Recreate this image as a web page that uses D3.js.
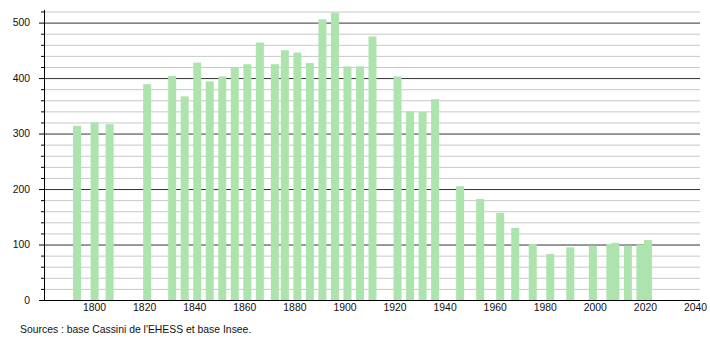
<!DOCTYPE html>
<html>
<head>
<meta charset="utf-8">
<script src="https://cdn.jsdelivr.net/npm/d3@7"></script>
<style>
  body { margin: 0; background: #fff; }
  svg { font-family: "Liberation Sans", Arial, sans-serif; }
</style>
</head>
<body>
<svg id="chart"></svg>
<script>
// années de recensement et population
const annees = [1793, 1800, 1806, 1821, 1831, 1836, 1841, 1846, 1851, 1856,
  1861, 1866, 1872, 1876, 1881, 1886, 1891, 1896, 1901, 1906,
  1911, 1921, 1926, 1931, 1936, 1946, 1954, 1962, 1968, 1975,
  1982, 1990, 1999, 2006, 2008, 2013, 2018, 2021];
const population = [314, 320, 317, 389, 404, 367, 428, 394, 403, 420,
  425, 464, 425, 450, 446, 427, 506, 518, 421, 421,
  475, 403, 340, 339, 362, 205, 182, 157, 130, 101,
  83, 95, 98, 101, 103, 98, 100, 108];
const xTicks = [1800, 1820, 1840, 1860, 1880, 1900, 1920, 1940, 1960, 1980, 2000, 2020, 2040];
const source = "Sources : base Cassini de l'EHESS et base Insee.";

const width = 710, height = 340;
const mLeft = 44, mRight = 700, mTop = 11.5, mBottom = 300;
const fs = 10.4;

const svg = d3.select("#chart").attr("width", width).attr("height", height);

const x = d3.scaleLinear().domain([1780, 2042]).range([mLeft, mRight]);
const y = d3.scaleLinear().domain([0, 520]).range([mBottom, mTop]);

const minorVals = d3.range(20, 521, 20).filter((v) => v % 100);

// grille fine (tous les 20)
const grilleFine = svg.append("g")
  .attr("transform", `translate(${mLeft},0)`)
  .call(d3.axisLeft(y).tickValues(minorVals).tickSize(-(mRight - mLeft)).tickFormat(""));
grilleFine.select(".domain").remove();
grilleFine.selectAll("line").attr("stroke", "#c8c8c8");

// petites graduations
const petites = svg.append("g")
  .attr("transform", `translate(${mLeft},0)`)
  .call(d3.axisLeft(y).tickValues(minorVals).tickSize(3).tickFormat(""));
petites.select(".domain").remove();
petites.selectAll("line").attr("stroke", "#000");

// grille principale (tous les 100)
const grille = svg.append("g")
  .attr("transform", `translate(${mLeft},0)`)
  .call(d3.axisLeft(y).tickValues([100, 200, 300, 400, 500]).tickSize(-(mRight - mLeft)).tickFormat(""));
grille.select(".domain").remove();
grille.selectAll("line").attr("stroke", "#333");

// barres
const barW = 8;
svg.append("g")
  .selectAll("rect")
  .data(annees)
  .join("rect")
  .attr("x", (d) => x(d) - barW / 2 + 0.5)
  .attr("y", (d, i) => y(population[i]))
  .attr("width", barW)
  .attr("height", (d, i) => y(0) - y(population[i]))
  .attr("fill", "#ade3ad");

// axe y
const axeY = svg.append("g")
  .attr("transform", `translate(${mLeft},0)`)
  .call(d3.axisLeft(y).tickValues([0, 100, 200, 300, 400, 500]).tickSize(5).tickPadding(9).tickSizeOuter(0));
axeY.select(".domain").attr("stroke", "#000").attr("d", `M0.5,${mBottom}V${mTop - 1.5}`);
axeY.selectAll("line").attr("stroke", "#000");
axeY.selectAll("text").attr("font-size", fs).attr("fill", "#111")
  .attr("font-family", "Liberation Sans, Arial, sans-serif");

// axe x
const axeX = svg.append("g")
  .attr("transform", `translate(0,${mBottom})`)
  .call(d3.axisBottom(x).tickValues(xTicks).tickSize(0).tickPadding(4).tickFormat(d3.format("d")));
axeX.select(".domain").attr("stroke", "#000").attr("d", `M${mLeft - 5},0.5H${mRight}`);
axeX.selectAll("text").attr("font-size", fs).attr("fill", "#111")
  .attr("font-family", "Liberation Sans, Arial, sans-serif");

// source
svg.append("text")
  .attr("x", 20)
  .attr("y", 333)
  .attr("font-size", fs)
  .attr("fill", "#111")
  .text(source);
</script>
</body>
</html>
